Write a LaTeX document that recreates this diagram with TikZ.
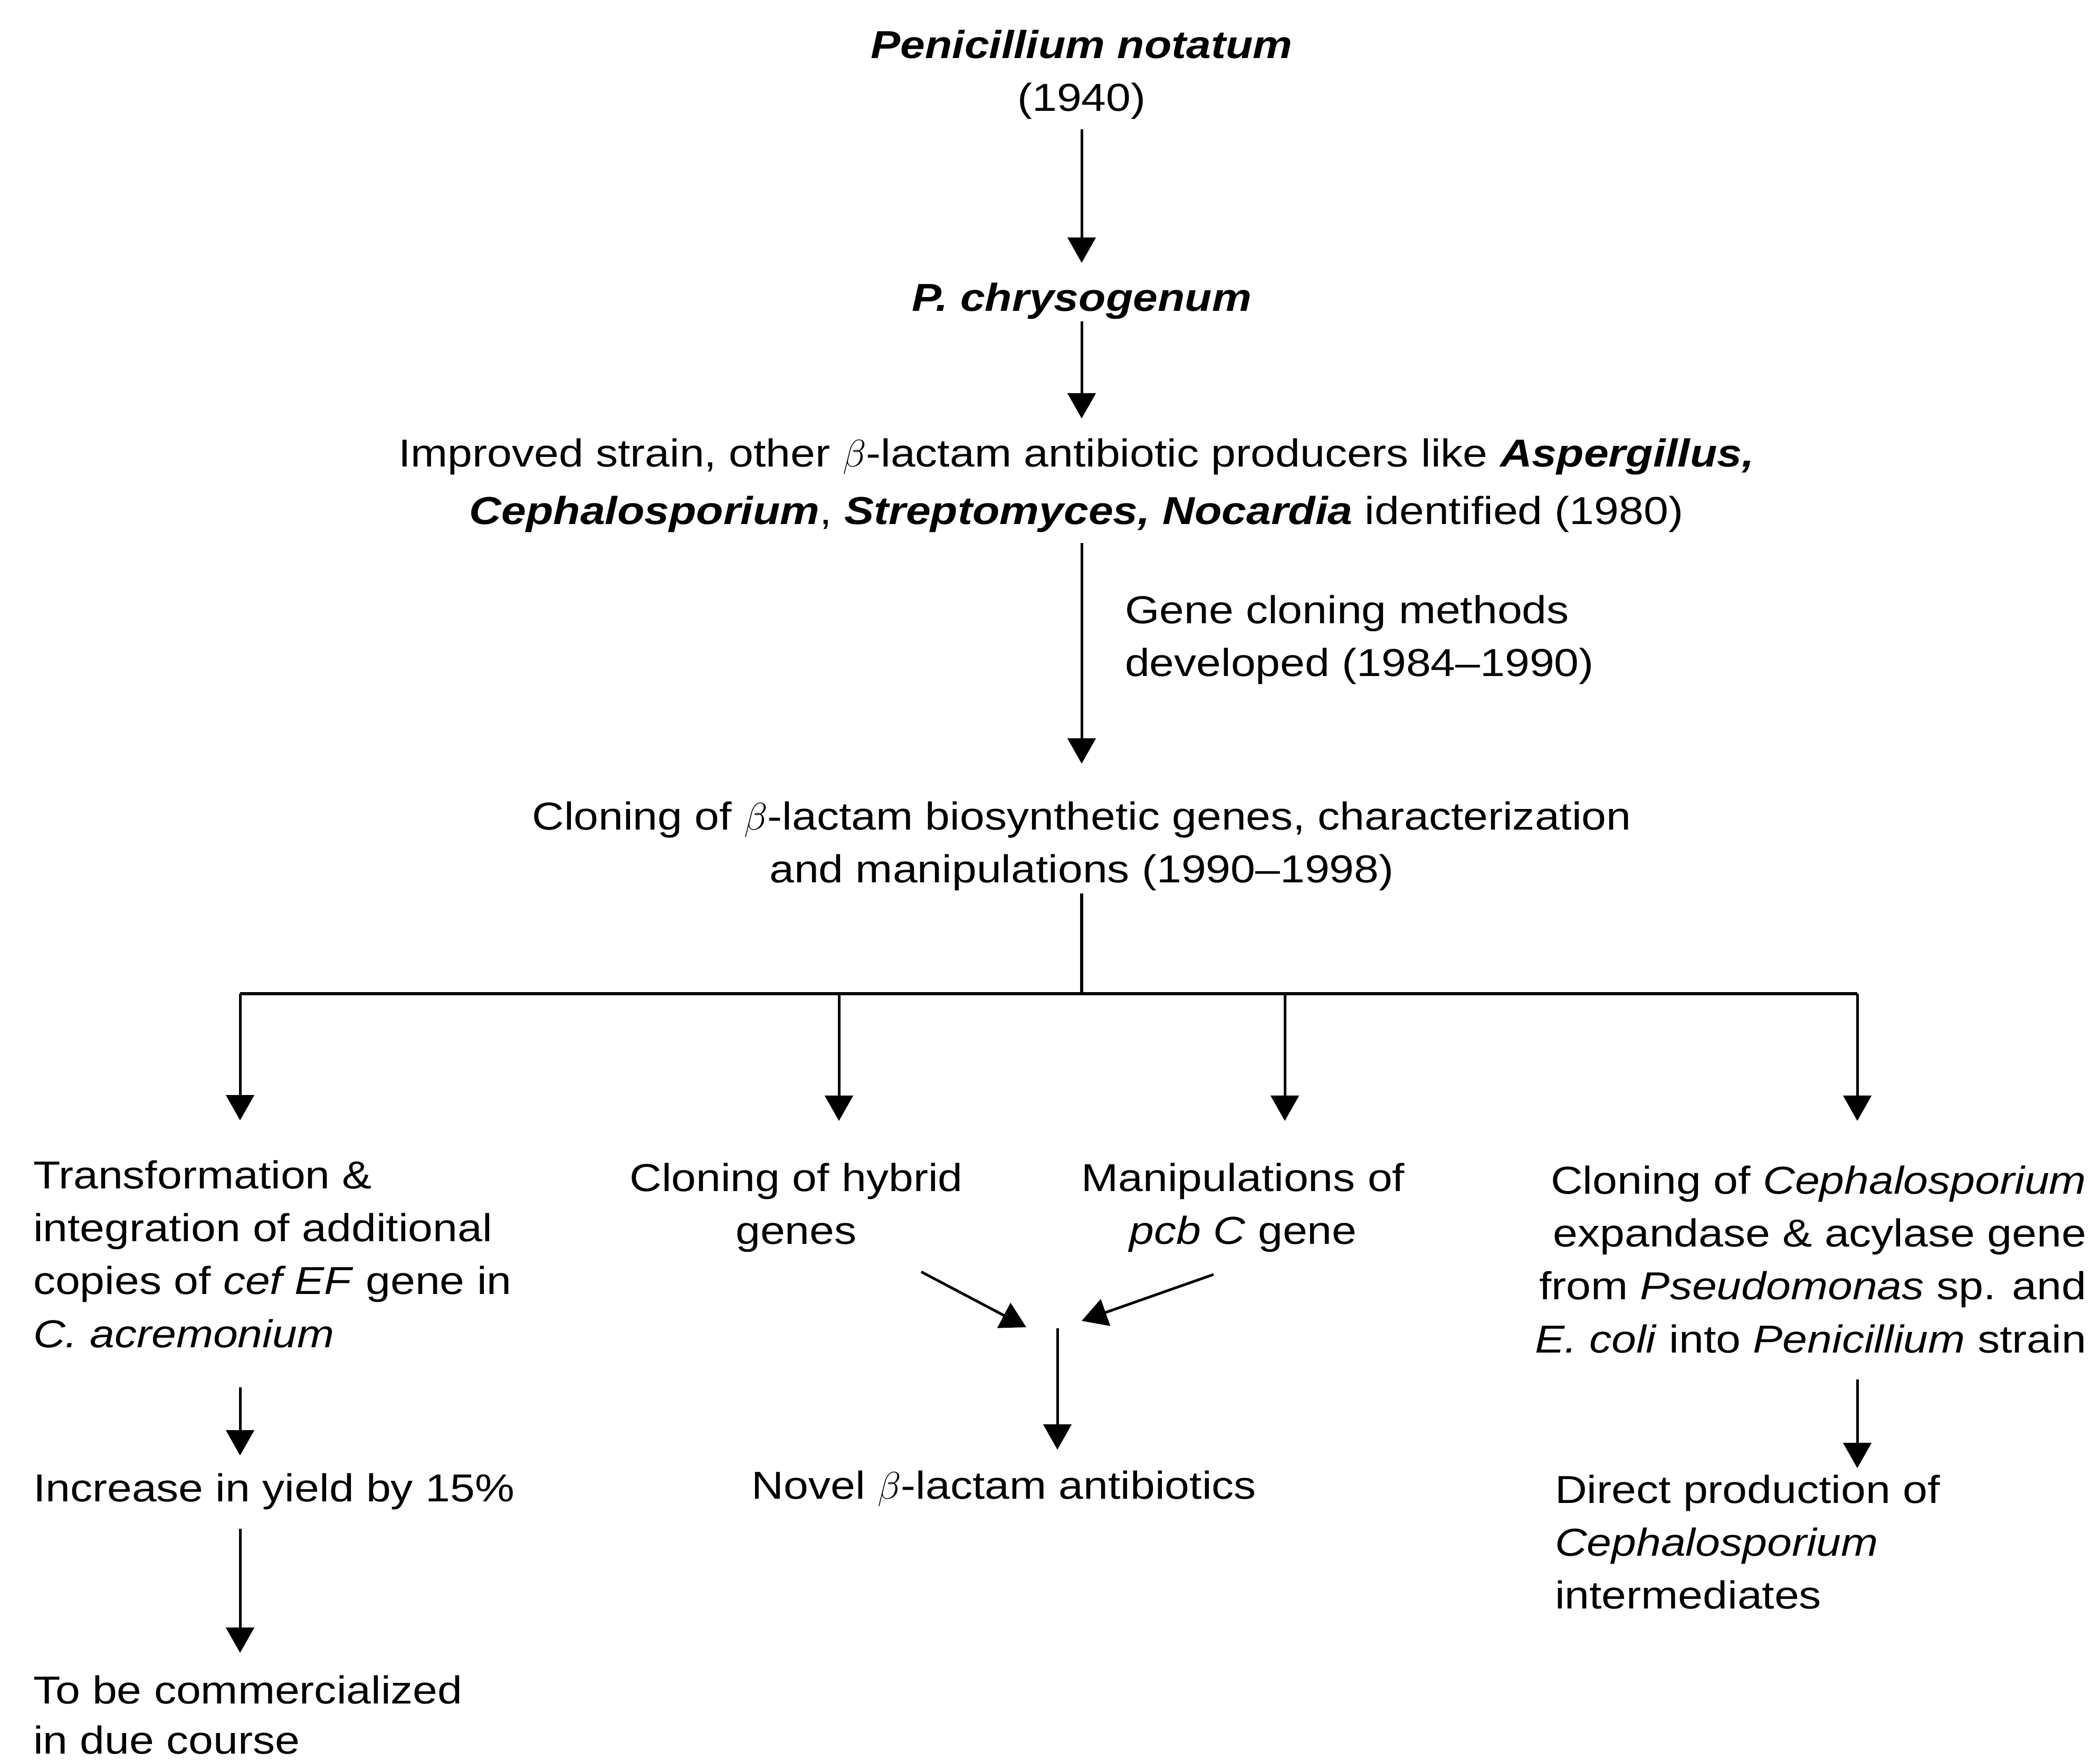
\documentclass[tikz,border=0pt]{standalone}
\usepackage{fontspec}
\setmainfont{Liberation Sans}[FakeStretch=1.14]
\usetikzlibrary{arrows.meta,positioning,calc}

\begin{document}
\begin{tikzpicture}[every node/.style={font=\fontsize{21}{28.5}\selectfont, inner sep=0pt, outer sep=0pt},
      arr/.style={-{Triangle[length=4.8mm,width=5.3mm]}, line width=0.5mm},
      bar/.style={line width=0.65mm}]
      \useasboundingbox (0,0) rectangle (39.8,-33.37);
      \node[align=center, anchor=north] (a) at (20.5,-0.57) {\textbf{\textit{Penicillium notatum}}\\(1940)};
      \node[anchor=north] (b) at (20.5,-5.36) {\textbf{\textit{P. chrysogenum}}};
      \node[align=center, anchor=north] (c) at (20.4,-8.31) {Improved strain, other $\beta$-lactam antibiotic producers like \textbf{\textit{Aspergillus,}}\\[2.5pt]
         \textbf{\textit{Cephalosporium}}, \textbf{\textit{Streptomyces, Nocardia}} identified (1980)};
      \node[align=left, anchor=north west] (d) at (21.32,-11.28) {Gene cloning methods\\developed (1984--1990)};
      \node[align=center, anchor=north] (e) at (20.5,-15.19) {Cloning of $\beta$-lactam biosynthetic genes, characterization\\and manipulations (1990--1998)};
      \node[align=left, anchor=north west] (f) at (0.63,-21.99) {Transformation \&\\integration of additional\\copies of \textit{cef EF} gene in\\\textit{C. acremonium}};
      \node[align=center, anchor=north] (g) at (15.09,-22.04) {Cloning of hybrid\\genes};
      \node[align=center, anchor=north] (h) at (23.56,-22.04) {Manipulations of\\\textit{pcb C} gene};
      \node[align=right, anchor=north east] (i) at (39.54,-22.09) {Cloning of \textit{Cephalosporium}\\expandase \& acylase gene\\from \textit{Pseudomonas} sp. and\\\textit{E. coli} into \textit{Penicillium} strain};
      \node[anchor=north west] (j) at (0.63,-27.92) {Increase in yield by 15\%};
      \node[align=left, anchor=north west, font=\fontsize{21}{27}\selectfont] (k) at (0.63,-31.75) {To be commercialized\\in due course};
      \node[anchor=north] (l) at (19.03,-27.87) {Novel $\beta$-lactam antibiotics};
      \node[align=left, anchor=north west] (m) at (29.47,-27.95) {Direct production of\\\textit{Cephalosporium}\\intermediates};
      \coordinate (j1) at (4.55,-18.83);
      \coordinate (j2) at (15.9,-18.83);
      \coordinate (j3) at (24.35,-18.83);
      \coordinate (j4) at (35.2,-18.83);
      \coordinate (g1) at (17.46,-24.10);
      \coordinate (g2) at (19.45,-25.15);
      \coordinate (h1) at (23.00,-24.15);
      \coordinate (h2) at (20.50,-25.03);
      \coordinate (v) at (20.04,-25.17);
      \draw[arr, shorten <=1.9mm, shorten >=3.8mm] (a) -- (b);
      \draw[arr, shorten <=0.4mm, shorten >=3.8mm] (b.south) -- (b.south |- c.north);
      \draw[arr, shorten <=2mm, shorten >=7.2mm] (c.south -| e.north) -- (e.north);
      \draw[bar, shorten <=0.5mm] (e.south) -- (e.south |- j1);
      \draw[bar] (j1) -- (j4);
      \draw[arr, shorten >=7.6mm] (j1) -- (j1 |- f.north);
      \draw[arr, shorten >=8mm] (j2) -- (j2 |- g.north);
      \draw[arr, shorten >=8mm] (j3) -- (j3 |- h.north);
      \draw[arr, shorten >=8.5mm] (j4) -- (j4 |- i.north);
      \draw[arr, shorten <=7.5mm, shorten >=3.4mm] (f.south -| j1) -- (j.north -| j1);
      \draw[arr, shorten <=3.6mm, shorten >=4.3mm] (j.south -| j1) -- (k.north -| j1);
      \draw[arr] (g1) -- (g2);
      \draw[arr] (h1) -- (h2);
      \draw[arr, shorten >=4mm] (v) -- (l.north -| v);
      \draw[arr, shorten <=5mm, shorten >=1.3mm] (i.south -| j4) -- (m.north -| j4);
\end{tikzpicture}
\end{document}
